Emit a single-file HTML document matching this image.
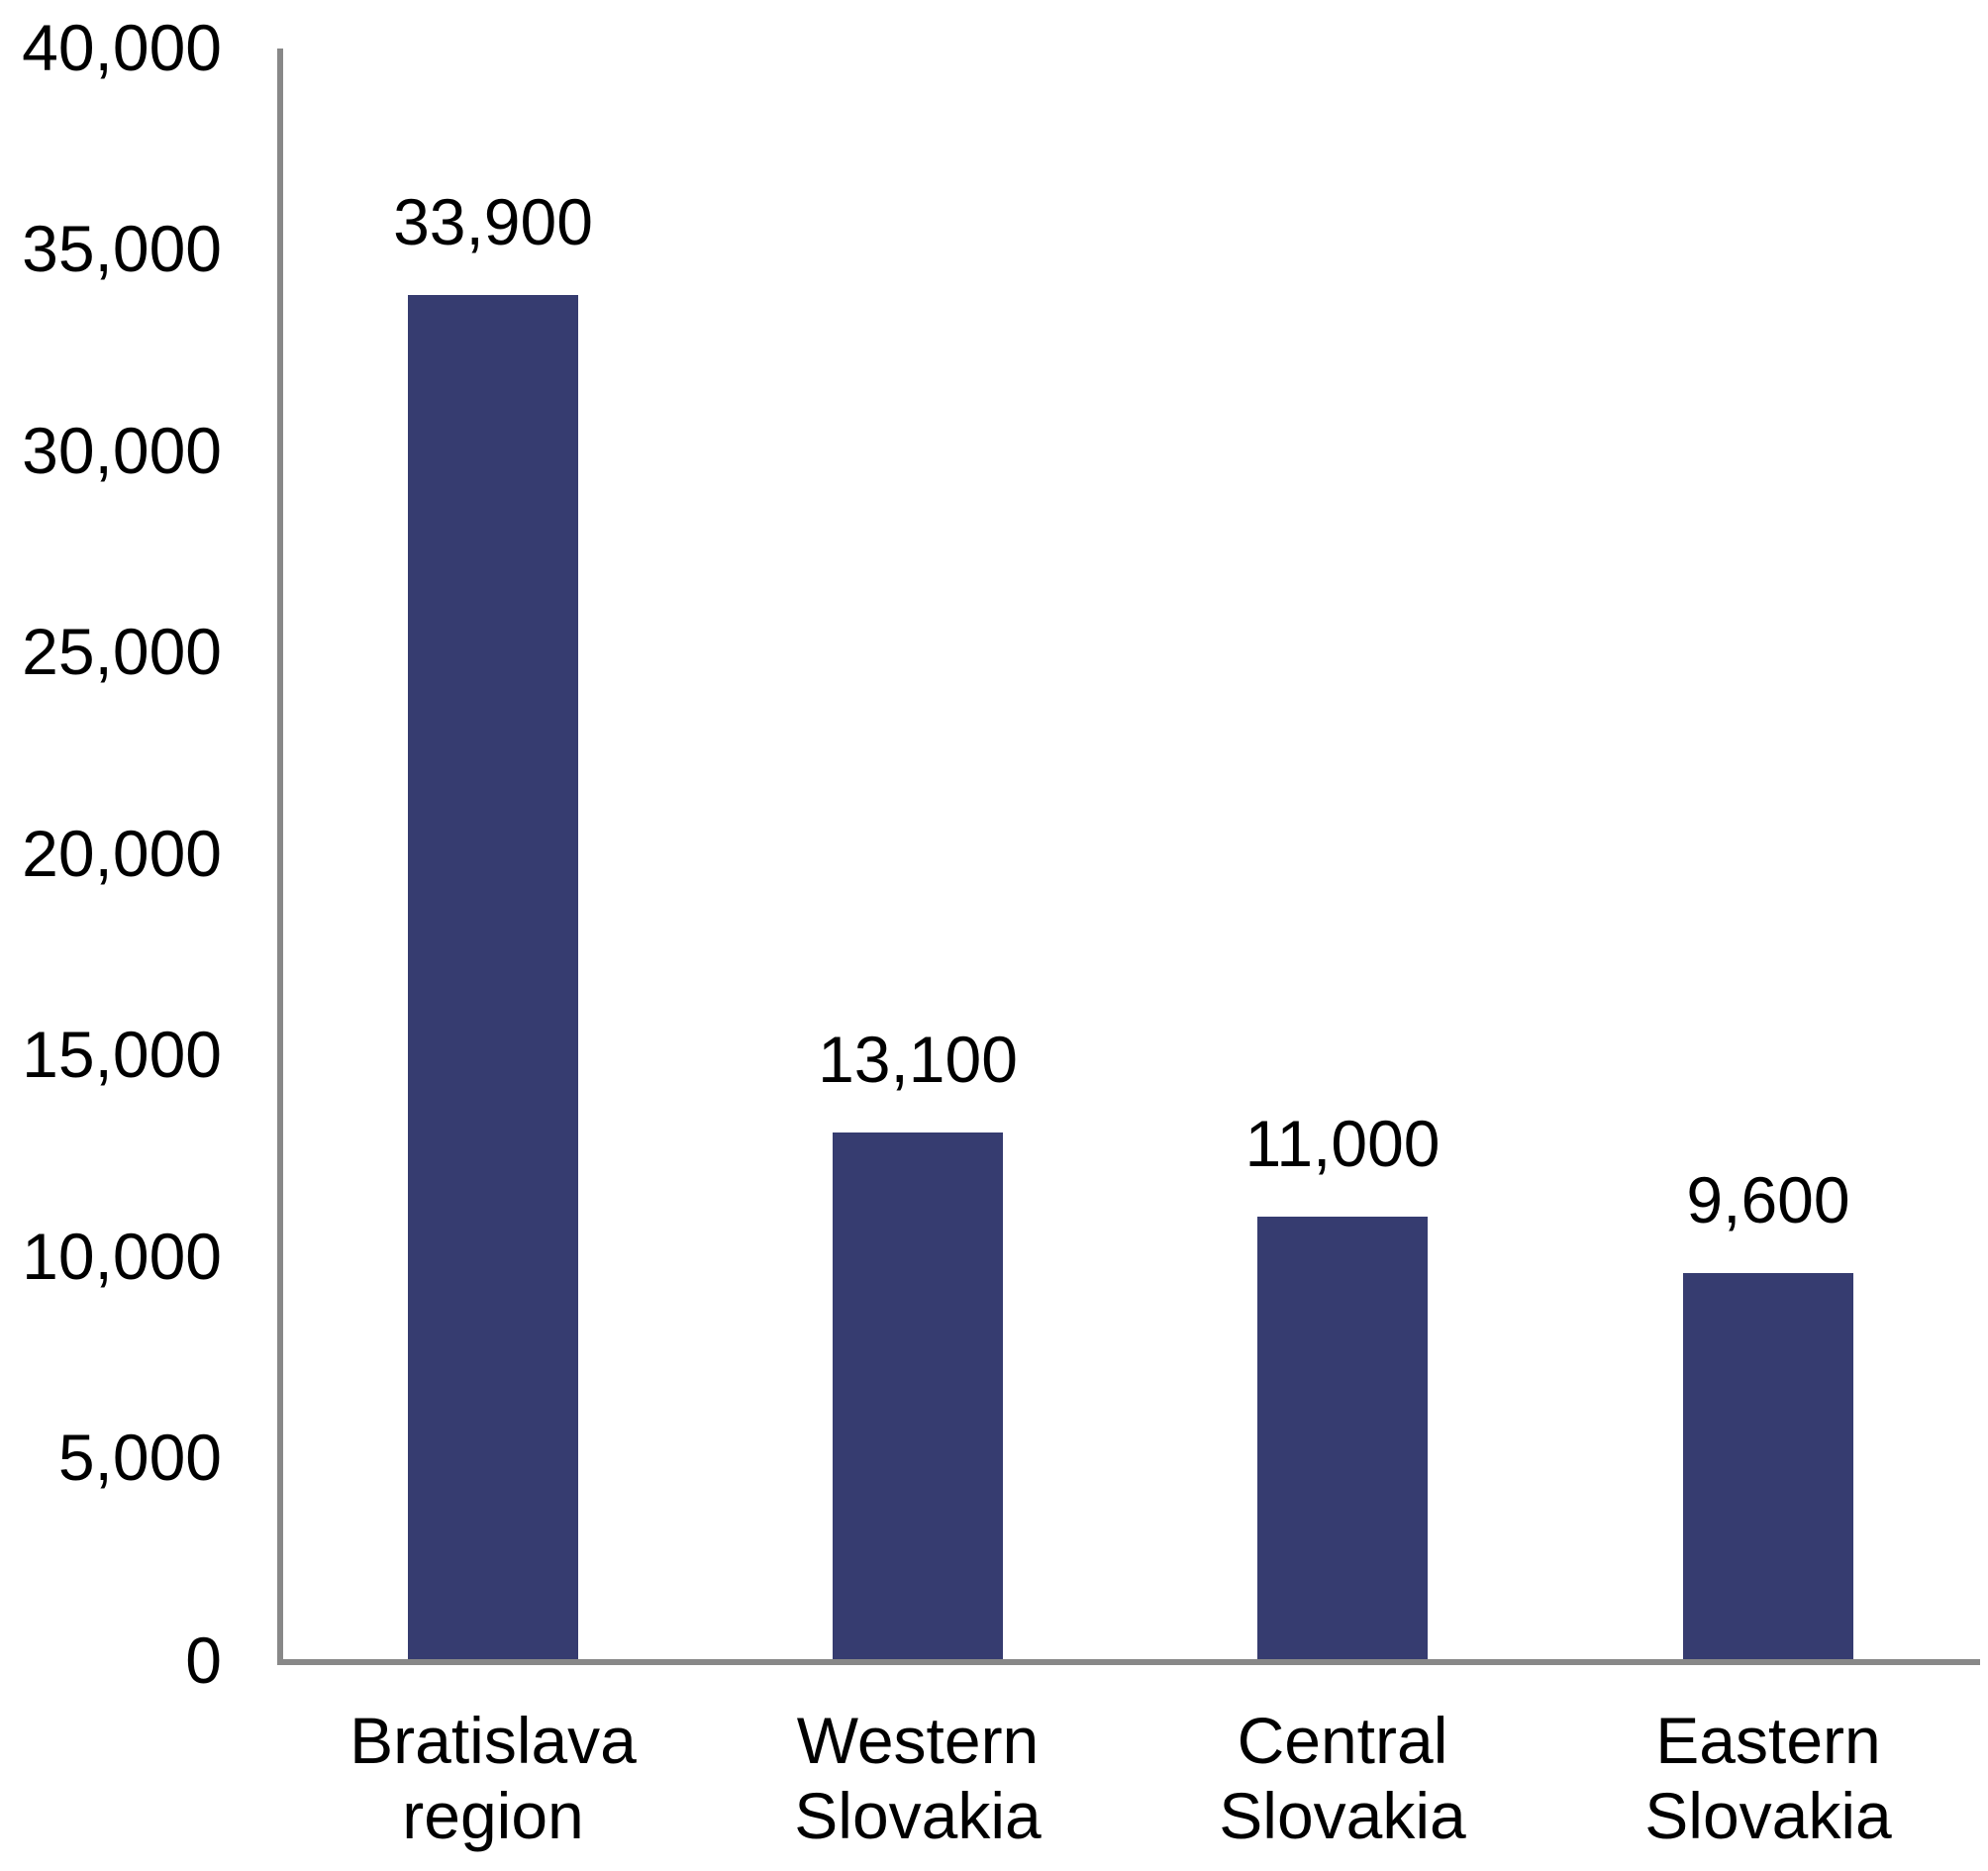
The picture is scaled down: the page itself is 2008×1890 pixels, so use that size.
<!DOCTYPE html>
<html><head><meta charset="utf-8"><style>
html,body{margin:0;padding:0;background:#fff;}
svg{display:block;}
text{font-family:"Liberation Sans",Arial,sans-serif;font-size:66px;fill:#000;}
</style></head><body>
<svg width="2008" height="1890" viewBox="0 0 2008 1890" xmlns="http://www.w3.org/2000/svg">
<g text-anchor="end">
<text x="224" y="71">40,000</text>
<text x="224" y="274">35,000</text>
<text x="224" y="478">30,000</text>
<text x="224" y="681">25,000</text>
<text x="224" y="885">20,000</text>
<text x="224" y="1088">15,000</text>
<text x="224" y="1292">10,000</text>
<text x="224" y="1495">5,000</text>
<text x="224" y="1700">0</text>
</g>
<rect x="412" y="298" width="172" height="1379" fill="#363c70"/>
<rect x="841" y="1144" width="172" height="533" fill="#363c70"/>
<rect x="1270" y="1229" width="172" height="448" fill="#363c70"/>
<rect x="1700" y="1286" width="172" height="391" fill="#363c70"/>
<line x1="283" y1="49" x2="283" y2="1682" stroke="#888" stroke-width="6"/>
<line x1="280" y1="1679" x2="2000" y2="1679" stroke="#888" stroke-width="6"/>
<g text-anchor="middle">
<text x="498" y="247">33,900</text>
<text x="927" y="1093">13,100</text>
<text x="1356" y="1178">11,000</text>
<text x="1786" y="1235">9,600</text>
<text x="498" y="1781">Bratislava</text>
<text x="498" y="1857">region</text>
<text x="927" y="1781">Western</text>
<text x="927" y="1857">Slovakia</text>
<text x="1356" y="1781">Central</text>
<text x="1356" y="1857">Slovakia</text>
<text x="1786" y="1781">Eastern</text>
<text x="1786" y="1857">Slovakia</text>
</g>
</svg>
</body></html>
